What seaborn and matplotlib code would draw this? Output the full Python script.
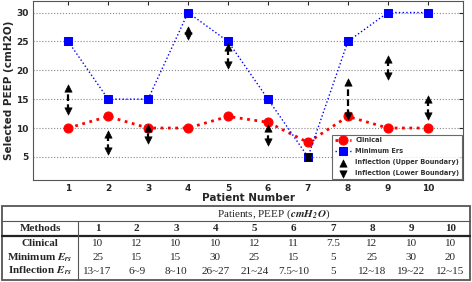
import numpy as np
import pandas as pd
import matplotlib
matplotlib.use('Agg')
import matplotlib.pyplot as plt
import seaborn as sns

# Data
patients = [1, 2, 3, 4, 5, 6, 7, 8, 9, 10]
clinical = [10, 12, 10, 10, 12, 11, 7.5, 12, 10, 10]
min_ers = [25, 15, 15, 30, 25, 15, 5, 25, 30, 30]
infl_low = [13, 6, 8, 26, 21, 7.5, 5, 12, 19, 12]
infl_high = [17, 9, 10, 27, 24, 10, 5, 18, 22, 15]

# Table text (as printed under the chart)
tab_clinical = ['10', '12', '10', '10', '12', '11', '7.5', '12', '10', '10']
tab_min_ers = ['25', '15', '15', '30', '25', '15', '5', '25', '30', '20']
tab_infl = ['13~17', '6~9', '8~10', '26~27', '21~24', '7.5~10', '5', '12~18', '19~22', '12~15']
row_labels = ['Clinical', r'Minimum $\mathbfit{E_{rs}}$', r'Inflection $\mathbfit{E_{rs}}$']

sns.set_style('white')
plt.rcParams['font.family'] = ['DejaVu Sans']
plt.rcParams['mathtext.fontset'] = 'stix'

df = pd.DataFrame({'patient': patients, 'clinical': clinical, 'min_ers': min_ers})

fig = plt.figure(figsize=(4.72, 2.82), dpi=100)
ax = fig.add_axes([33 / 472, 1 - 180 / 282, 430 / 472, 179 / 282])

sns.lineplot(data=df, x='patient', y='clinical', ax=ax, color='red', linestyle=':',
             linewidth=2, marker='o', markersize=6.5, markeredgecolor='red',
             label='Clinical', zorder=3)
sns.lineplot(data=df, x='patient', y='min_ers', ax=ax, color='blue', linestyle=':',
             linewidth=1, marker='s', markersize=5.5, markeredgecolor='blue',
             label='Minimum Ers', zorder=3)

ax.vlines(patients, infl_low, infl_high, colors='black', linestyles=(0, (3, 1.5)),
          linewidth=1.6, zorder=4)
sns.scatterplot(x=patients, y=infl_high, ax=ax, marker='^', color='black', s=28,
                edgecolor='black', label='Inflection (Upper Boundary)', zorder=5)
sns.scatterplot(x=patients, y=infl_low, ax=ax, marker='v', color='black', s=28,
                edgecolor='black', label='Inflection (Lower Boundary)', zorder=5)

ax.set_xlim(0.12, 10.88)
ax.set_ylim(1, 32)
ax.set_xticks(patients)
ax.set_yticks([5, 10, 15, 20, 25, 30])
ax.yaxis.grid(True, linestyle=':', color='#888888', linewidth=0.8)
ax.tick_params(direction='in', top=True, right=True, length=3, labelsize=6.5, pad=3)
for lab in ax.get_xticklabels() + ax.get_yticklabels():
    lab.set_fontweight('bold')
ax.set_xlabel('Patient Number', fontsize=7.5, fontweight='bold', labelpad=0)
ax.set_ylabel('Selected PEEP (cmH2O)', fontsize=7.5, fontweight='bold', labelpad=2)
for sp in ax.spines.values():
    sp.set_color('#555555')
    sp.set_linewidth(0.8)

leg = ax.legend(loc='lower right', frameon=True, fancybox=False,
                borderpad=0.35, labelspacing=0.75, handlelength=2.4, handletextpad=0.7,
                borderaxespad=0.2, prop={'size': 4.8, 'weight': 'bold'})
leg.get_frame().set_edgecolor('#444444')
leg.get_frame().set_linewidth(0.8)
for t in leg.get_texts():
    t.set_color('#333333')

# Table drawn below the chart
tab = fig.add_axes([0, 0, 1, 1], zorder=-1)
tab.set_xlim(0, 472)
tab.set_ylim(282, 0)
tab.axis('off')

left, right, top, bottom = 2, 470, 206, 280
split = 78
col_w = (right - split) / len(patients)
col_x = [split + col_w * (i + 0.5) for i in range(len(patients))]
serif = 'Liberation Serif'

tab.add_patch(plt.Rectangle((left, top), right - left, bottom - top, fill=False,
                            edgecolor='#555555', linewidth=1.3))
tab.plot([left, right], [221, 221], color='#555555', linewidth=0.8)
tab.plot([left, right], [236, 236], color='#222222', linewidth=1.6)
tab.plot([split, split], [221, bottom], color='#555555', linewidth=0.8)

tab.text((split + right) / 2, 214, r'Patients, PEEP ($\mathbfit{cmH_2O}$)', family=serif,
         fontsize=8, ha='center', va='center')
tab.text((left + split) / 2, 228.5, 'Methods', family=serif, fontsize=8,
         fontweight='bold', ha='center', va='center')
for x, p in zip(col_x, patients):
    tab.text(x, 228.5, str(p), family=serif, fontsize=8, fontweight='bold',
             ha='center', va='center')

row_y = [244, 257.5, 271]
for y, name, vals in zip(row_y, row_labels, [tab_clinical, tab_min_ers, tab_infl]):
    tab.text((left + split) / 2, y, name, family=serif, fontsize=8, fontweight='bold',
             ha='center', va='center')
    for x, v in zip(col_x, vals):
        tab.text(x, y, v, family=serif, fontsize=8, ha='center', va='center')

fig.savefig('out.png', dpi=100)
